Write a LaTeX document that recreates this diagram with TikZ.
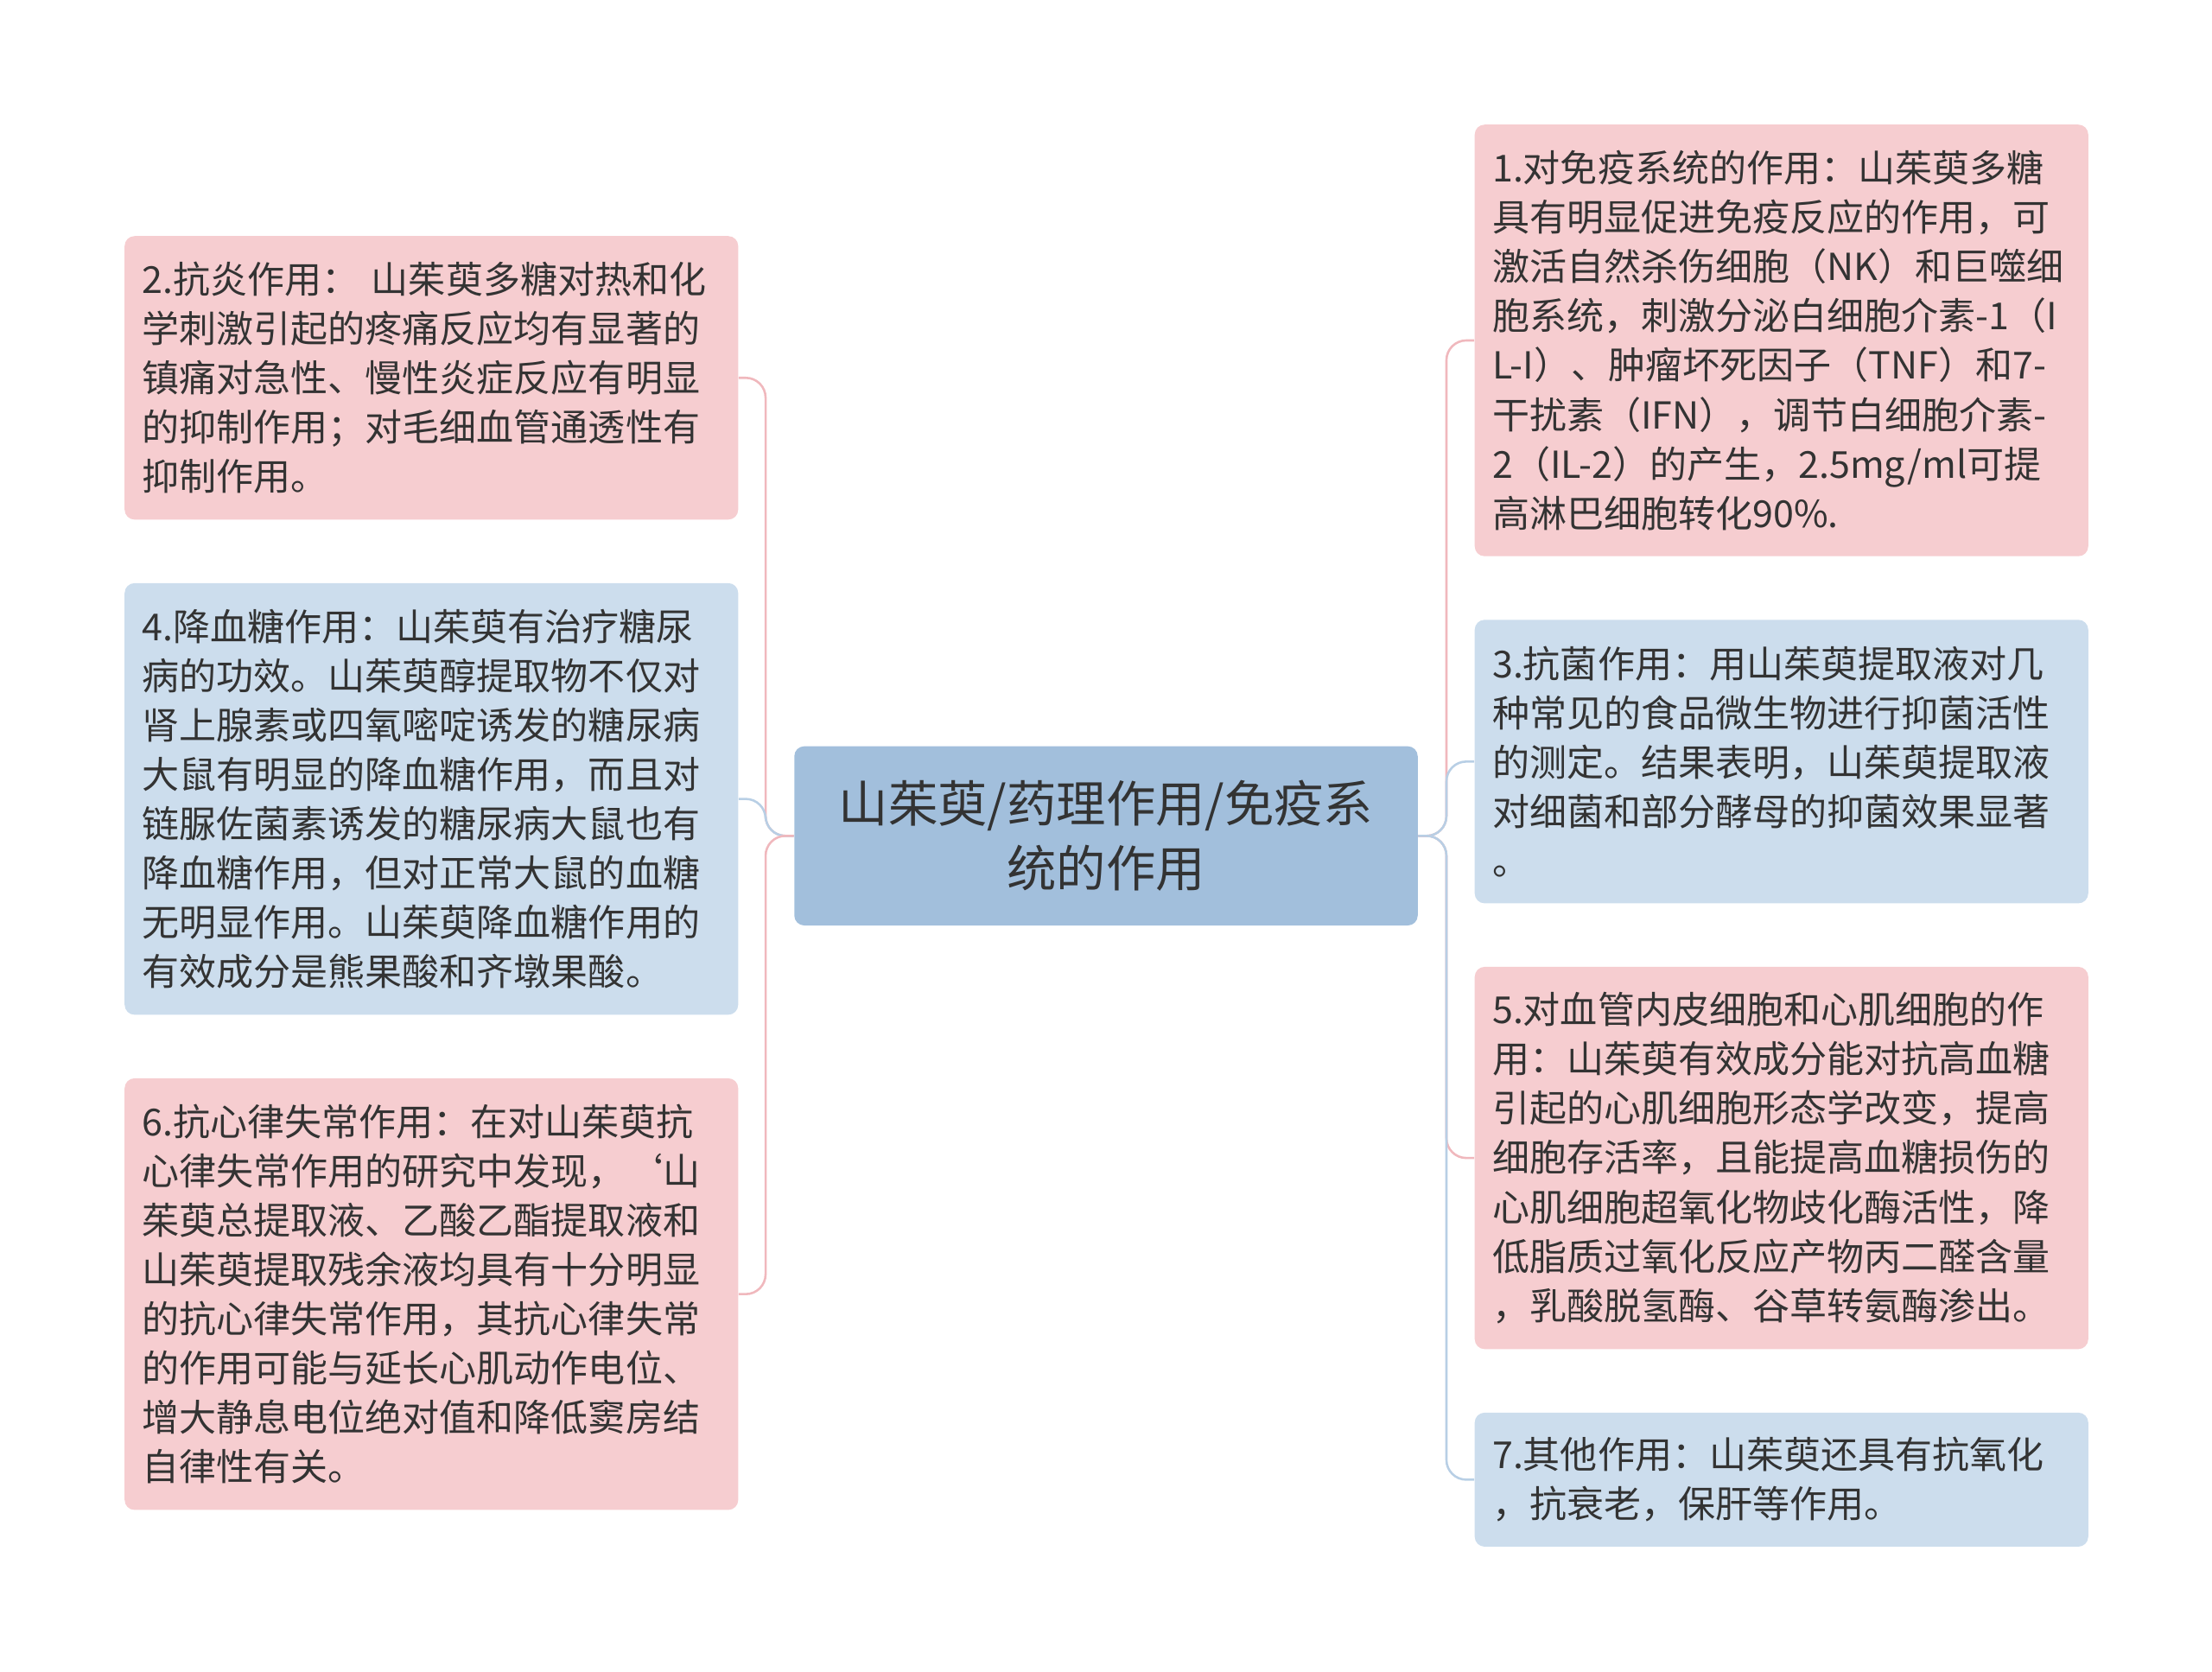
\documentclass[tikz,border=0pt]{standalone}
\usepackage{fontspec}
\setmainfont{Noto Sans CJK SC}
\definecolor{pk}{HTML}{F6CDD0}
\definecolor{bl}{HTML}{CCDDED}
\definecolor{ct}{HTML}{A2BFDC}
\definecolor{pkl}{HTML}{F0B8BD}
\definecolor{bll}{HTML}{B8CFE5}
\definecolor{tx}{HTML}{333333}
\begin{document}
\begin{tikzpicture}[x=0.02cm,y=-0.02cm,
 box/.style={anchor=north west,rounded corners=4pt,text width=8.2cm,inner xsep=0.25cm,inner ysep=0.2cm,align=left,text=tx,font=\fontsize{15pt}{19.9pt}\selectfont,minimum width=8.7cm},
 pbox/.style={box,fill=pk},bbox/.style={box,fill=bl},
 pl/.style={draw=pkl,line width=0.9pt,rounded corners=8pt},
 bln/.style={draw=bll,line width=0.9pt,rounded corners=8pt}]
\useasboundingbox (0,0) rectangle (1568,1185);
\node[fill=ct,rounded corners=4pt,minimum width=8.84cm,minimum height=2.54cm,align=center,text=tx,font=\fontsize{20pt}{26pt}\selectfont] (c) at (784,592.5) {山茱萸/药理作用/免疫系\\统的作用};
\node[pbox,minimum height=4.02cm] (l1) at (88,167) {2.抗炎作用：\ 山茱萸多糖对热和化\\学刺激引起的疼痛反应均有显著的\\镇痛对急性、慢性炎症反应有明显\\的抑制作用；对毛细血管通透性有\\抑制作用。};
\node[bbox,minimum height=6.12cm] (l2) at (88,413) {4.降血糖作用：山茱萸有治疗糖尿\\病的功效。山茱萸醇提取物不仅对\\肾上腺素或四氧嘧啶诱发的糖尿病\\大鼠有明显的降血糖作用，而且对\\链脲佐菌素诱发的糖尿病大鼠也有\\降血糖作用，但对正常大鼠的血糖\\无明显作用。山茱萸降血糖作用的\\有效成分是熊果酸和齐墩果酸。};
\node[pbox,minimum height=6.12cm] (l3) at (88,764) {6.抗心律失常作用：在对山茱萸抗\\心律失常作用的研究中发现，‘山\\茱萸总提取液、乙酸乙酯提取液和\\山茱萸提取残余液均具有十分明显\\的抗心律失常作用，其抗心律失常\\的作用可能与延长心肌动作电位、\\增大静息电位绝对值和降低窦房结\\自律性有关。};
\node[pbox,minimum height=6.12cm] (r1) at (1045,88) {1.对免疫系统的作用：山茱萸多糖\\具有明显促进免疫反应的作用，可\\激活自然杀伤细胞（NK）和巨噬细\\胞系统，刺激分泌白细胞介素-1（I\\L-I）、肿瘤坏死因子（TNF）和7-\\干扰素（IFN），调节白细胞介素-\\2（IL-2）的产生，2.5mg/ml可提\\高淋巴细胞转化90\%.};
\node[bbox,minimum height=4.02cm] (r2) at (1045,439) {3.抗菌作用：用山茱萸提取液对几\\种常见的食品微生物进行抑菌活性\\的测定。结果表明，山茱萸提取液\\对细菌和部分酵母的抑菌效果显著\\。};
\node[pbox,minimum height=5.42cm] (r3) at (1045,685) {5.对血管内皮细胞和心肌细胞的作\\用：山茱萸有效成分能对抗高血糖\\引起的心肌细胞形态学改变，提高\\细胞存活率，且能提高血糖损伤的\\心肌细胞超氧化物歧化酶活性，降\\低脂质过氧化反应产物丙二醛含量\\，乳酸脱氢酶、谷草转氨酶渗出。};
\node[bbox,minimum height=1.9cm] (r4) at (1045,1001) {7.其他作用：山茱萸还具有抗氧化\\，抗衰老，保肝等作用。};
\draw[pl] (c.west) -- ++(-20,0) |- (l1.east);
\draw[bln] (c.west) -- ++(-20,0) |- (l2.east);
\draw[pl] (c.west) -- ++(-20,0) |- (l3.east);
\draw[pl] (c.east) -- ++(20,0) |- (r1.west);
\draw[bln] (c.east) -- ++(20,0) |- (r2.west);
\draw[pl] (c.east) -- ++(20,0) |- (r3.west);
\draw[bln] (c.east) -- ++(20,0) |- (r4.west);
\end{tikzpicture}
\end{document}
